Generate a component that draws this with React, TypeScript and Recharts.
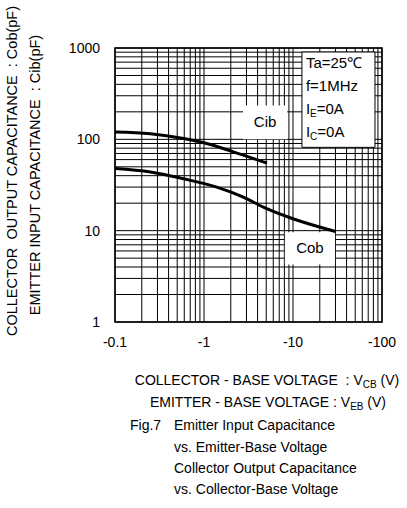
import React from "react";
import {
  CartesianGrid,
  Line,
  LineChart,
  ReferenceArea,
  XAxis,
  YAxis,
} from "recharts";

// |V| in volts (axis is labelled negative), capacitance in pF
const cibVoltage = [0.1, 0.25, 0.59, 1.07, 2.13, 5.1];
const cibPf = [120, 115, 102, 90, 73, 55];

const cobVoltage = [0.1, 0.25, 0.59, 1.39, 2.77, 4.64, 10, 30];
const cobPf = [48, 44, 37, 30, 23.3, 18.1, 13.5, 9.8];

const xDecades = [0.1, 1, 10, 100];
const yDecades = [1, 10, 100, 1000];

const conditions = ["Ta=25℃", "f=1MHz", "IE=0A", "IC=0A"];

const FONT = "'Liberation Sans', Arial, Helvetica, sans-serif";
const NBSP = "\u00A0";

// 1,2..9 inside each decade, plus the closing decade
const logTicks = (decades: number[]) => {
  const out: number[] = [];
  decades.slice(0, -1).forEach((d) => {
    for (let m = 1; m <= 9; m++) out.push(+(d * m).toPrecision(3));
  });
  out.push(decades[decades.length - 1]);
  return out;
};

const xTicks = logTicks(xDecades);
const yTicks = logTicks(yDecades);

const cibData = cibVoltage.map((v, i) => ({ v, c: cibPf[i] }));
const cobData = cobVoltage.map((v, i) => ({ v, c: cobPf[i] }));

const isDecade = (list: number[], v: number) =>
  list.some((d) => Math.abs(d - v) < 1e-9);

function XTick({ x, y, payload }: any) {
  if (!isDecade(xDecades, payload.value)) return null;
  return (
    <text x={x} y={y + 17} textAnchor="middle" fontSize={14} fontFamily={FONT} fill="#000">
      {"-" + payload.value}
    </text>
  );
}

function YTick({ x, y, payload }: any) {
  if (!isDecade(yDecades, payload.value)) return null;
  return (
    <text x={x - 7} y={y + 5} textAnchor="end" fontSize={14} fontFamily={FONT} fill="#000">
      {payload.value}
    </text>
  );
}

function CurveName({ viewBox, text }: any) {
  const { x, y, width, height } = viewBox;
  return (
    <text
      x={x + width / 2}
      y={y + height / 2 + 5}
      textAnchor="middle"
      fontSize={15}
      fontFamily={FONT}
      fill="#000"
    >
      {text}
    </text>
  );
}

function Conditions({ viewBox }: any) {
  const { x, y } = viewBox;
  return (
    <g fontSize={15} fontFamily={FONT} fill="#000">
      {conditions.map((t, i) => {
        const ty = y + 16 + i * 23;
        if (t.startsWith("I")) {
          return (
            <text key={t} x={x + 4} y={ty}>
              I
              <tspan fontSize={10} dy={3}>
                {t[1]}
              </tspan>
              <tspan dy={-3}>{t.slice(2)}</tspan>
            </text>
          );
        }
        return (
          <text key={t} x={x + 4} y={ty}>
            {t}
          </text>
        );
      })}
    </g>
  );
}

export default function App() {
  return (
    <div
      style={{
        position: "absolute",
        left: 0,
        top: 0,
        width: 407,
        height: 508,
        background: "#fff",
        fontFamily: FONT,
      }}
    >
      <LineChart
        width={407}
        height={508}
        margin={{ top: 48, right: 25, bottom: 156, left: 55 }}
      >
        <CartesianGrid stroke="#000" strokeWidth={1} />
        <XAxis
          dataKey="v"
          type="number"
          scale="log"
          domain={[0.1, 100]}
          ticks={xTicks}
          interval={0}
          allowDataOverflow
          axisLine={false}
          tickLine={false}
          tick={<XTick />}
          height={30}
        />
        <YAxis
          dataKey="c"
          type="number"
          scale="log"
          domain={[1, 1000]}
          ticks={yTicks}
          interval={0}
          allowDataOverflow
          axisLine={false}
          tickLine={false}
          tick={<YTick />}
          width={60}
        />
        <ReferenceArea
          x1={0.1}
          x2={100}
          y1={1}
          y2={1000}
          fill="none"
          stroke="#000"
          strokeWidth={1.5}
          ifOverflow="visible"
        />
        <ReferenceArea
          x1={2.74}
          x2={8.6}
          y1={100}
          y2={235}
          fill="#fff"
          fillOpacity={1}
          stroke="none"
          label={<CurveName text="Cib" />}
        />
        <ReferenceArea
          x1={8.1}
          x2={29.7}
          y1={4.25}
          y2={9.6}
          fill="#fff"
          fillOpacity={1}
          stroke="none"
          label={<CurveName text="Cob" />}
        />
        <ReferenceArea
          x1={12.6}
          x2={83.4}
          y1={81.7}
          y2={904}
          fill="#fff"
          fillOpacity={1}
          stroke="#000"
          strokeWidth={1}
          label={<Conditions />}
        />
        <Line
          data={cibData}
          dataKey="c"
          type="monotone"
          stroke="#000"
          strokeWidth={3}
          dot={false}
          isAnimationActive={false}
        />
        <Line
          data={cobData}
          dataKey="c"
          type="monotone"
          stroke="#000"
          strokeWidth={3}
          dot={false}
          isAnimationActive={false}
        />
      </LineChart>

      <svg
        width={407}
        height={508}
        style={{ position: "absolute", left: 0, top: 0, pointerEvents: "none" }}
        fontFamily={FONT}
        fill="#000"
      >
        <g fontSize={14.5} textAnchor="middle">
          <text transform="translate(17,171) rotate(-90)">
            {`COLLECTOR${NBSP} OUTPUT CAPACITANCE${NBSP} : Cob(pF)`}
          </text>
          <text transform="translate(40,175) rotate(-90)">
            {`EMITTER INPUT CAPACITANCE${NBSP} : Cib(pF)`}
          </text>
        </g>
        <g fontSize={14} textAnchor="middle">
          <text x={267} y={385}>
            {`COLLECTOR - BASE VOLTAGE${NBSP} : V`}
            <tspan fontSize={10} dy={3}>CB</tspan>
            <tspan dy={-3}>{" (V)"}</tspan>
          </text>
          <text x={268} y={407}>
            {"EMITTER - BASE VOLTAGE : V"}
            <tspan fontSize={10} dy={3}>EB</tspan>
            <tspan dy={-3}>{" (V)"}</tspan>
          </text>
        </g>
        <g fontSize={14}>
          <text x={130} y={430}>Fig.7</text>
          <text x={174} y={430}>Emitter Input Capacitance</text>
          <text x={174} y={452}>vs. Emitter-Base Voltage</text>
          <text x={174} y={473}>Collector Output Capacitance</text>
          <text x={174} y={494}>vs. Collector-Base Voltage</text>
        </g>
      </svg>
    </div>
  );
}
